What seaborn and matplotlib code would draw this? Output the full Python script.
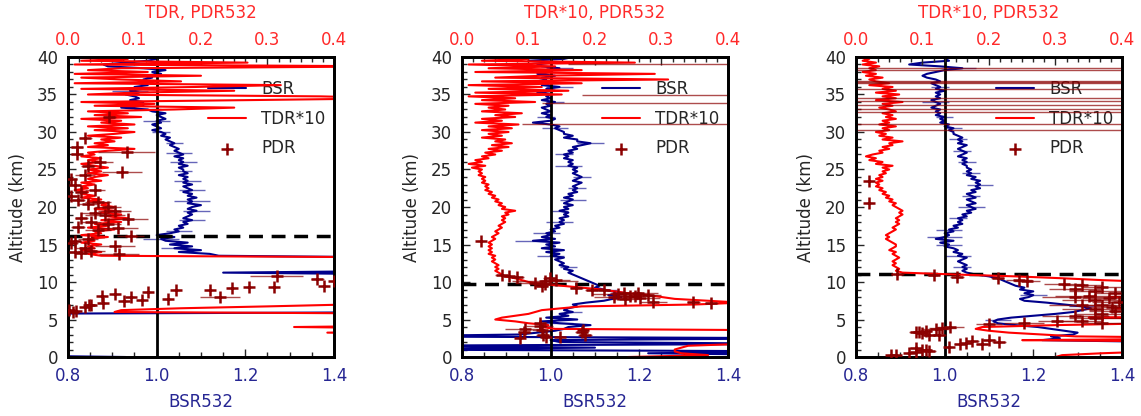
import numpy as np
import matplotlib
matplotlib.use("Agg")
import matplotlib.pyplot as plt
import seaborn as sns
from matplotlib.ticker import MultipleLocator, AutoMinorLocator

# lidar range bins (km)
alt = np.linspace(0, 40, 161)

# ---------------- panel 1 ----------------
bsr1 = ([0.93, 0.6, 0.6, 0.6, 0.6, 0.6, 0.6, 0.6, 0.6, 0.6, 0.6, 0.6, 0.6, 0.6, 0.6, 0.6, 0.6, 0.6, 0.6, 0.6]
        + [0.6, 0.6, 0.6, 0.6] + [1.7] * 16
        + [1.7, 1.7, 1.7, 1.7, 1.6, 1.15, 1.6, 1.7, 1.7, 1.7, 1.7, 1.7, 1.7, 1.6, 1.14, 1.12, 1.05, 1.10, 1.04, 1.08]
        + [1.03, 1.07, 1.02, 1.01, 1.04, 1.00, 1.03, 1.05, 1.04, 1.06, 1.05, 1.07, 1.06, 1.08, 1.06, 1.07, 1.08, 1.07, 1.09, 1.07]
        + [1.08, 1.10, 1.07, 1.08, 1.07, 1.09, 1.07, 1.08, 1.06, 1.08, 1.07, 1.06, 1.08, 1.06, 1.07, 1.06, 1.07, 1.05, 1.07, 1.06]
        + [1.06, 1.05, 1.07, 1.05, 1.06, 1.05, 1.06, 1.04, 1.06, 1.05, 1.04, 1.05, 1.04, 1.03, 1.04, 1.03, 1.02, 1.03, 1.01, 1.02]
        + [1.01, 0.99, 1.01, 1.00, 0.99, 1.01, 1.00, 1.02, 1.01, 1.00, 1.02, 0.99, 0.98, 0.92, 0.97, 0.95, 0.97, 0.94, 0.96, 0.95]
        + [0.93, 0.96, 0.94, 0.97, 0.95, 0.98, 0.96, 0.98, 0.97, 0.99, 0.97, 1.01, 0.99, 1.02, 0.97, 0.89, 0.88, 0.93, 0.98, 1.00]
        + [0.99])
tdr1 = ([0.6] * 13 + [0.39, 0.6, 0.6, 0.34, 0.6, 0.6, 0.6]
        + [0.6, 0.6, 0.6, 0.6, 0.07, 0.08, 0.17, 0.30, 0.42] + [0.6] * 11
        + [0.6] * 14 + [0.05, 0.03, 0.05, 0.02, 0.04, 0.03]
        + [0.05, 0.02, 0.04, 0.03, 0.06, 0.02, 0.05, 0.04, 0.07, 0.03, 0.06, 0.04, 0.08, 0.05, 0.09, 0.06, 0.08, 0.05, 0.07, 0.04]
        + [0.07, 0.05, 0.06, 0.03, 0.05, 0.02, 0.04, 0.02, 0.03, 0.01, 0.03, 0.02, 0.04, 0.02, 0.05, 0.03, 0.04, 0.06, 0.03, 0.05]
        + [0.03, 0.06, 0.04, 0.02, 0.05, 0.03, 0.05, 0.02, 0.04, 0.03, 0.06, 0.10, 0.03, 0.06, 0.04, 0.07, 0.05, 0.08, 0.03, 0.07]
        + [0.10, 0.04, 0.09, 0.03, 0.10, 0.05, 0.08, 0.02, 0.11, 0.04, 0.09, 0.03, 0.16, 0.25, 0.04, 0.13, 0.02, 0.27, 0.50, 0.38]
        + [0.03, 0.10, 0.25, 0.02, 0.19, 0.32, 0.01, 0.17, 0.08, 0.02, 0.20, 0.01, 0.12, 0.03, 0.08, 0.50, 0.01, 0.27, 0.02, 0.09]
        + [0.01])
bsr1_err_alt = [14.5, 15.75, 16.75, 18.25, 19.5, 20.75, 22.25, 23.5, 24.75, 26.0, 27.25, 28.5, 30.0, 31.5, 33.0, 35.5, 37.5]
bsr1_err = [0.03, 0.04, 0.03, 0.03, 0.03, 0.04, 0.03, 0.03, 0.02, 0.03, 0.03, 0.02, 0.02, 0.03, 0.03, 0.04, 0.03]
pdr1_alt = [31.95, 29.2, 28.0, 27.3, 27.0, 26.0, 25.5, 24.7, 24.2, 23.7, 23.0, 22.3, 22.0, 21.5, 21.0,
            20.7, 20.4, 20.0, 19.5, 19.2, 19.0, 18.6, 18.4, 18.0, 17.8, 17.4, 17.2, 16.9, 16.2, 15.8,
            15.5, 15.2, 14.8, 14.6, 14.2, 14.0, 13.8, 13.9,
            6.0, 6.3, 6.2, 6.7, 6.9, 7.0, 8.13, 7.15, 8.4, 7.5, 7.96, 7.6, 8.7, 7.8, 9.0, 9.0, 7.96,
            9.15, 9.3, 9.3, 10.8, 10.4, 9.5, 10.1]
pdr1_val = [0.062, 0.026, 0.013, 0.088, 0.013, 0.048, 0.030, 0.081, 0.025, 0.004, 0.010, 0.040, 0.020, 0.005, 0.015,
            0.045, 0.030, 0.060, 0.070, 0.040, 0.055, 0.020, 0.090, 0.035, 0.060, 0.015, 0.075, 0.045, 0.094, 0.030,
            0.010, 0.005, 0.071, 0.025, 0.035, 0.010, 0.077, 0.020,
            0.008, 0.002, 0.012, 0.026, 0.031, 0.035, 0.051, 0.052, 0.071, 0.084, 0.094, 0.111, 0.120, 0.150, 0.163, 0.213, 0.229,
            0.246, 0.272, 0.310, 0.314, 0.375, 0.385, 0.400]
pdr1_err = [0.010, 0.010, 0.010, 0.043, 0.010, 0.020, 0.010, 0.030, 0.015, 0.010, 0.010, 0.015, 0.010, 0.010, 0.010,
            0.020, 0.015, 0.020, 0.025, 0.020, 0.030, 0.010, 0.030, 0.015, 0.020, 0.010, 0.030, 0.020, 0.020, 0.015,
            0.010, 0.010, 0.030, 0.015, 0.020, 0.010, 0.030, 0.010,
            0.005, 0.005, 0.005, 0.005, 0.005, 0.005, 0.005, 0.005, 0.005, 0.005, 0.005, 0.005, 0.005, 0.005, 0.005, 0.005, 0.030,
            0.005, 0.005, 0.005, 0.040, 0.010, 0.005, 0.005]

# ---------------- panel 2 ----------------
bsr2 = ([1.6, 1.6, 1.22, 1.6, 0.6, 1.1, 0.6, 1.6, 1.02, 1.0, 1.6, 0.6, 0.93, 0.97, 1.01, 1.03, 1.04, 1.09, 1.02, 0.98]
        + [1.06, 0.99, 1.04, 1.02, 1.05, 1.03, 1.04, 1.06, 1.05, 1.08, 1.12, 1.14, 1.16, 1.13, 1.17, 1.14, 1.12, 1.10, 1.11, 1.10]
        + [1.09, 1.08, 1.07, 1.06, 1.05, 1.04, 1.05, 1.03, 1.04, 1.02, 1.03, 1.02, 1.01, 1.03, 1.00, 1.02, 0.99, 1.03, 0.98, 1.01]
        + [0.99, 1.02, 0.96, 1.01, 0.98, 1.00, 0.99, 1.01, 1.00, 1.02, 1.01, 1.03, 1.02, 1.03, 1.02, 1.04, 1.03, 1.04, 1.02, 1.04]
        + [1.03, 1.05, 1.03, 1.04, 1.05, 1.03, 1.05, 1.04, 1.06, 1.05, 1.06, 1.05, 1.06, 1.07, 1.05, 1.06, 1.07, 1.06, 1.05, 1.06]
        + [1.05, 1.06, 1.04, 1.05, 1.04, 1.05, 1.03, 1.04, 1.03, 1.05, 1.04, 1.06, 1.05, 1.07, 1.09, 1.06, 1.06, 1.03, 1.05, 1.03]
        + [1.03, 1.02, 1.01, 1.02, 1.00, 0.96, 1.00, 1.01, 0.99, 1.00, 0.98, 1.00, 0.99, 0.98, 1.00, 0.99, 1.01, 0.98, 1.00, 0.99]
        + [1.00, 0.97, 1.01, 0.99, 1.02, 0.98, 1.00, 0.97, 0.99, 0.98, 1.01, 0.97, 1.00, 0.99, 1.02, 0.98, 0.97, 1.00, 0.95, 1.03]
        + [1.05])
tdr2 = ([0.25, 0.37, 0.33, 0.32, 0.32, 0.33, 0.34, 0.42, 0.6, 0.6, 0.6, 0.6, 0.6, 0.6, 0.6, 0.14, 0.12, 0.13, 0.10, 0.08]
        + [0.05, 0.06, 0.08, 0.10, 0.11, 0.12, 0.15, 0.18, 0.35, 0.42, 0.37, 0.32, 0.30, 0.28, 0.25, 0.23, 0.21, 0.18, 0.15, 0.12]
        + [0.10, 0.09, 0.08, 0.065, 0.06, 0.055, 0.05, 0.055, 0.05, 0.055, 0.05, 0.045, 0.05, 0.045, 0.05, 0.04, 0.045, 0.04, 0.045, 0.04]
        + [0.045, 0.04, 0.045, 0.05, 0.045, 0.05, 0.055, 0.05, 0.055, 0.06, 0.055, 0.06, 0.065, 0.06, 0.065, 0.06, 0.07, 0.065, 0.08, 0.06]
        + [0.065, 0.055, 0.06, 0.05, 0.055, 0.045, 0.05, 0.04, 0.045, 0.035, 0.04, 0.035, 0.04, 0.03, 0.035, 0.03, 0.035, 0.025, 0.03, 0.025]
        + [0.03, 0.015, 0.035, 0.01, 0.03, 0.02, 0.04, 0.03, 0.05, 0.035, 0.06, 0.04, 0.07, 0.045, 0.075, 0.05, 0.065, 0.03, 0.06, 0.04]
        + [0.07, 0.03, 0.075, 0.04, 0.085, 0.02, 0.06, 0.03, 0.08, 0.05, 0.09, 0.03, 0.065, 0.04, 0.07, 0.02, 0.11, 0.03, 0.08, 0.01]
        + [0.15, 0.02, 0.16, 0.04, 0.12, 0.01, 0.18, 0.03, 0.31, 0.05, 0.12, 0.29, 0.02, 0.18, 0.04, 0.14, 0.01, 0.26, 0.03, 0.10]
        + [0.04])
bsr2_err_alt = [4.5, 6.0, 9.0, 12.0, 13.5, 15.5, 16.5, 18.0, 19.5, 21.0, 22.5, 24.0, 25.5, 27.0, 28.5, 30.5, 32.0, 34.0, 36.0, 38.5]
bsr2_err = [0.03, 0.02, 0.03, 0.02, 0.03, 0.04, 0.03, 0.03, 0.02, 0.03, 0.02, 0.02, 0.03, 0.02, 0.03, 0.03, 0.02, 0.02, 0.03, 0.03]
pdr2_alt = [15.5, 10.9, 10.8, 10.7, 10.5, 10.3, 9.9, 9.7, 9.47, 10.1, 9.15, 9.0, 8.9, 8.6, 8.1, 7.9, 7.3, 7.3, 7.2,
            8.4, 8.2, 8.0, 8.5, 7.7, 8.3,
            2.6, 3.8, 3.3, 4.2, 3.6, 3.0, 2.7, 4.5, 2.7, 3.3, 2.9, 3.6,
            31.1, 33.9, 34.9, 39.1]
pdr2_val = [0.028, 0.060, 0.071, 0.083, 0.132, 0.142, 0.110, 0.125, 0.120, 0.125, 0.172, 0.195, 0.213, 0.243, 0.253, 0.268, 0.288, 0.348, 0.375,
            0.235, 0.260, 0.228, 0.265, 0.245, 0.280,
            0.087, 0.095, 0.094, 0.117, 0.120, 0.122, 0.126, 0.118, 0.147, 0.180, 0.185, 0.182,
            0.60, 0.60, 0.60, 0.60]
pdr2_err = [0.005, 0.010, 0.010, 0.010, 0.010, 0.020, 0.030, 0.020, 0.010, 0.050, 0.010, 0.010, 0.010, 0.020, 0.020, 0.030, 0.020, 0.010, 0.010,
            0.040, 0.030, 0.030, 0.030, 0.020, 0.020,
            0.005, 0.030, 0.010, 0.020, 0.015, 0.010, 0.005, 0.010, 0.005, 0.010, 0.010, 0.005,
            0.51, 0.48, 0.42, 0.44]

# ---------------- panel 3 ----------------
bsr3 = ([1.6] * 8 + [1.5, 1.22, 1.26, 1.24, 1.29, 1.30, 1.27, 1.24, 1.21, 1.16, 1.12, 1.11]
        + [1.12, 1.15, 1.20, 1.25, 1.29, 1.31, 1.33, 1.31, 1.27, 1.23, 1.18, 1.17, 1.19, 1.20, 1.18, 1.20, 1.17, 1.18, 1.16, 1.15]
        + [1.14, 1.13, 1.12, 1.10, 1.07, 1.05, 1.04, 1.05, 1.04, 1.05, 1.04, 1.03, 1.04, 1.05, 1.03, 1.04, 1.02, 1.03, 1.02, 1.00]
        + [1.01, 0.99, 1.02, 0.98, 1.00, 1.01, 1.00, 1.02, 1.01, 1.03, 1.02, 1.04, 1.03, 1.04, 1.03, 1.05, 1.04, 1.06, 1.05, 1.07]
        + [1.06, 1.05, 1.07, 1.06, 1.05, 1.07, 1.06, 1.05, 1.07, 1.06, 1.08, 1.07, 1.08, 1.07, 1.08, 1.06, 1.07, 1.05, 1.06, 1.05]
        + [1.06, 1.05, 1.05, 1.04, 1.05, 1.04, 1.05, 1.03, 1.04, 1.05, 1.04, 1.03, 1.04, 1.05, 1.03, 1.04, 1.03, 1.04, 1.03, 1.02]
        + [1.02, 1.01, 1.02, 1.00, 1.01, 0.99, 1.00, 0.99, 1.00, 0.98, 0.99, 0.98, 0.99, 0.97, 0.98, 0.99, 0.98, 0.97, 0.99, 0.98]
        + [0.99, 0.98, 1.00, 0.98, 0.99, 0.98, 0.97, 0.99, 0.98, 0.96, 0.95, 0.96, 0.98, 1.00, 1.04, 0.99, 0.92, 0.95, 1.01, 1.00]
        + [1.00])
tdr3 = ([0.30, 0.31, 0.37, 0.45, 0.6, 0.6, 0.6, 0.6, 0.6, 0.25, 0.6, 0.33, 0.28, 0.23, 0.20, 0.18, 0.19, 0.30, 0.45, 0.6]
        + [0.6, 0.35, 0.6, 0.6, 0.6, 0.6, 0.39, 0.6, 0.6, 0.6, 0.6, 0.6, 0.38, 0.6, 0.6, 0.6, 0.6, 0.6, 0.6, 0.6]
        + [0.45, 0.37, 0.31, 0.24, 0.15, 0.07, 0.06, 0.065, 0.06, 0.055, 0.06, 0.055, 0.06, 0.065, 0.06, 0.055, 0.06, 0.05, 0.055, 0.06]
        + [0.06, 0.055, 0.05, 0.045, 0.05, 0.045, 0.05, 0.055, 0.06, 0.055, 0.06, 0.065, 0.06, 0.065, 0.06, 0.065, 0.07, 0.065, 0.07, 0.065]
        + [0.06, 0.055, 0.06, 0.05, 0.055, 0.045, 0.05, 0.04, 0.045, 0.035, 0.04, 0.03, 0.035, 0.03, 0.04, 0.03, 0.04, 0.035, 0.045, 0.04]
        + [0.05, 0.04, 0.055, 0.03, 0.04, 0.02, 0.03, 0.015, 0.025, 0.04, 0.035, 0.05, 0.04, 0.055, 0.05, 0.07, 0.04, 0.055, 0.035, 0.045]
        + [0.03, 0.05, 0.04, 0.06, 0.035, 0.05, 0.04, 0.06, 0.045, 0.055, 0.04, 0.06, 0.05, 0.035, 0.055, 0.04, 0.07, 0.03, 0.06, 0.04]
        + [0.065, 0.03, 0.06, 0.04, 0.055, 0.02, 0.05, 0.03, 0.02, 0.04, 0.015, 0.03, 0.01, 0.03, 0.02, 0.035, 0.01, 0.03, 0.01, 0.02]
        + [0.0])
bsr3_err_alt = [5.0, 6.75, 8.25, 12.0, 13.5, 15.0, 16.0, 17.0, 18.5, 20.0, 21.5, 23.0, 24.5, 26.0, 27.5, 29.0, 30.5, 32.0, 34.0, 36.0, 38.5]
bsr3_err = [0.03, 0.03, 0.03, 0.02, 0.03, 0.03, 0.04, 0.03, 0.02, 0.03, 0.02, 0.03, 0.02, 0.02, 0.02, 0.02, 0.02, 0.02, 0.03, 0.02, 0.03]
pdr3_alt = [23.5, 20.6, 11.1, 11.0, 10.7, 10.5, 10.3, 10.1, 9.8, 9.6, 9.3, 9.1, 8.8, 8.5, 8.2, 7.9, 7.6, 7.3, 7.0,
            6.7, 6.4, 6.1, 5.8, 5.5, 5.2, 4.8, 4.8, 4.6, 4.5, 4.4, 8.0, 6.9,
            4.0, 3.9, 3.7, 3.5, 3.3, 3.2, 3.4, 3.0, 2.9,
            2.3, 2.0, 1.8, 2.1, 1.8, 1.4, 1.9,
            1.0, 0.9, 0.8, 0.5, 0.3, 0.27, 1.2, 0.7,
            38.5, 38.2, 36.5, 36.6, 36.8, 35.7, 34.5, 34.1, 33.6, 33.1, 32.6, 31.1, 30.3]
pdr3_val = [0.020, 0.020, 0.062, 0.117, 0.152, 0.213, 0.245, 0.257, 0.313, 0.340, 0.370, 0.330, 0.360, 0.390, 0.350, 0.380, 0.360, 0.395, 0.370,
            0.385, 0.360, 0.390, 0.370, 0.330, 0.360, 0.303, 0.340, 0.370, 0.253, 0.200, 0.330, 0.340,
            0.142, 0.130, 0.120, 0.105, 0.090, 0.100, 0.095, 0.125, 0.110,
            0.200, 0.215, 0.190, 0.175, 0.157, 0.140, 0.165,
            0.105, 0.100, 0.110, 0.080, 0.060, 0.052, 0.090, 0.091,
            0.80, 0.80, 0.80, 0.80, 0.80, 0.80, 0.80, 0.80, 0.80, 0.80, 0.80, 0.80, 0.80]
pdr3_err = [0.005, 0.005, 0.010, 0.010, 0.010, 0.010, 0.020, 0.020, 0.030, 0.030, 0.030, 0.040, 0.040, 0.030, 0.050, 0.040, 0.050, 0.040, 0.050,
            0.040, 0.050, 0.040, 0.040, 0.050, 0.040, 0.030, 0.030, 0.030, 0.030, 0.020, 0.050, 0.050,
            0.020, 0.020, 0.020, 0.010, 0.010, 0.010, 0.010, 0.010, 0.010,
            0.010, 0.010, 0.010, 0.010, 0.010, 0.005, 0.010,
            0.010, 0.010, 0.010, 0.005, 0.005, 0.005, 0.010, 0.010,
            0.80, 0.80, 0.80, 0.80, 0.80, 0.80, 0.80, 0.80, 0.80, 0.80, 0.80, 0.80, 0.80]

tropopause = [16.2, 9.8, 11.1]
top_labels = ["TDR, PDR532", "TDR*10, PDR532", "TDR*10, PDR532"]

panels = [(bsr1, tdr1, bsr1_err_alt, bsr1_err, pdr1_alt, pdr1_val, pdr1_err),
          (bsr2, tdr2, bsr2_err_alt, bsr2_err, pdr2_alt, pdr2_val, pdr2_err),
          (bsr3, tdr3, bsr3_err_alt, bsr3_err, pdr3_alt, pdr3_val, pdr3_err)]

sns.set_style("ticks")
plt.rcParams['font.family'] = ['DejaVu Sans']
plt.rcParams['font.size'] = 12

blue_txt = '#262693'
red_txt = '#ff2a2a'
navy = '#00008b'
dred = '#8b0000'

fig = plt.figure(figsize=(11.41, 4.16), dpi=100)
lefts = [0.0596, 0.4049, 0.7502]

for i, (bsr, tdr, be_alt, be, p_alt, p_val, p_err) in enumerate(panels):
    ax = fig.add_axes([lefts[i], 0.1418, 0.2331, 0.7212])
    ax2 = ax.twiny()

    sns.lineplot(x=bsr, y=alt, sort=False, estimator=None, orient="y",
                 color=navy, lw=1.5, ax=ax, label='BSR', legend=False)
    # bsr uncertainty at a few bins
    be_idx = [int(round(a * 4)) for a in be_alt]
    ax.errorbar([bsr[k] for k in be_idx], be_alt, xerr=be, fmt='none',
                ecolor=navy, elinewidth=1, alpha=0.6, capsize=0)
    ax.axvline(1.0, color='black', lw=2, zorder=3)
    ax.axhline(tropopause[i], color='black', lw=2.5, ls=(0, (4, 2.5)), zorder=3)

    sns.lineplot(x=tdr, y=alt, sort=False, estimator=None, orient="y",
                 color='red', lw=1.5, ax=ax2, label='TDR*10', legend=False)
    ax2.errorbar(p_val, p_alt, xerr=p_err, fmt='none', ecolor=dred,
                 elinewidth=1, alpha=0.7, capsize=0)
    sns.scatterplot(x=p_val, y=p_alt, marker='+', s=80, color=dred,
                    linewidth=1.8, ax=ax2, label='PDR', legend=False, zorder=4)

    ax.set_xlim(0.8, 1.4)
    ax.set_ylim(0, 40)
    ax2.set_xlim(0, 0.4)
    ax2.set_ylim(0, 40)

    ax.xaxis.set_major_locator(MultipleLocator(0.2))
    ax.xaxis.set_minor_locator(AutoMinorLocator(4))
    ax.yaxis.set_major_locator(MultipleLocator(5))
    ax.yaxis.set_minor_locator(MultipleLocator(1))
    ax2.xaxis.set_major_locator(MultipleLocator(0.1))
    ax2.xaxis.set_minor_locator(AutoMinorLocator(6))

    ax.tick_params(axis='x', which='both', direction='in', top=False,
                   labelcolor=blue_txt, labelsize=12, pad=7)
    ax.tick_params(axis='y', which='both', direction='in', right=False,
                   labelsize=12, pad=7)
    ax.tick_params(which='major', length=6, width=1)
    ax.tick_params(which='minor', length=3.5, width=1)
    ax2.tick_params(axis='x', which='both', direction='in',
                    labelcolor=red_txt, labelsize=12, pad=6)
    ax2.tick_params(which='major', length=6, width=1)
    ax2.tick_params(which='minor', length=3.5, width=1)
    ax2.tick_params(axis='y', which='both', left=False, right=False,
                    labelleft=False, labelright=False)

    ax.set_xlabel('BSR532', color=blue_txt, fontsize=12, labelpad=6)
    ax2.set_xlabel(top_labels[i], color=red_txt, fontsize=12, labelpad=9)
    ax.set_ylabel('Altitude (km)', fontsize=12, labelpad=7)

    for a in (ax, ax2):
        for sp in a.spines.values():
            sp.set_color('black')
            sp.set_linewidth(2)

    h1, l1 = ax.get_legend_handles_labels()
    h2, l2 = ax2.get_legend_handles_labels()
    leg = ax2.legend(h1 + h2, l1 + l2, loc='upper left', bbox_to_anchor=(0.50, 0.945),
                     frameon=False, fontsize=12, handlelength=2.3,
                     handletextpad=0.9, labelspacing=0.7, borderaxespad=0)
    leg.set_zorder(1)

fig.savefig('out.png', dpi=100)
